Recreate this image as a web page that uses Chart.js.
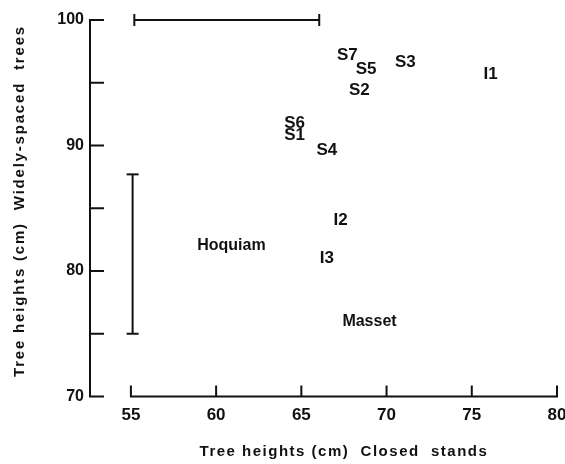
<!DOCTYPE html>
<html>
<head>
<meta charset="utf-8">
<script src="https://cdn.jsdelivr.net/npm/chart.js@4"></script>
<style>
  html, body { margin: 0; padding: 0; background: #fff; }
  #wrap { width: 565px; height: 464px; }
</style>
</head>
<body>
<div id="wrap"><canvas id="myChart" width="565" height="464"></canvas></div>
<script>
// site labels and their mean heights (cm)
var names = ['S7', 'S5', 'S3', 'I1', 'S2', 'S6', 'S1', 'S4', 'I2', 'Hoquiam', 'I3', 'Masset'];
var closedStands = [67.7, 68.8, 71.1, 76.1, 68.4, 64.6, 64.6, 66.5, 67.3, 60.9, 66.5, 69.0];
var widelySpaced = [97.2, 96.1, 96.6, 95.7, 94.4, 91.8, 90.8, 89.6, 84.0, 82.0, 81.0, 76.0];

// error bars (range shown in the corner)
var xErrorBar = [55.2, 66.05];   // at y = 100
var yErrorBar = [75, 87.7];      // at x = 55.1

var xTicks = [55, 60, 65, 70, 75, 80];
var yTicks = [70, 75, 80, 85, 90, 95, 100];
var yLabels = [70, 80, 90, 100];

var ink = '#111';
var fontFamily = '"Liberation Sans", Arial, sans-serif';

var points = names.map(function (n, i) { return {x: closedStands[i], y: widelySpaced[i]}; });

// axis lines with inward ticks, drawn through the scales
var axesPlugin = {
    id: 'axes',
    afterDraw: function (chart) {
        var c = chart.ctx, xs = chart.scales.x, ys = chart.scales.y;
        var left = chart.chartArea.left;
        var base = ys.getPixelForValue(70);
        c.save();
        c.strokeStyle = ink;
        c.lineWidth = 2;
        c.lineCap = 'square';
        c.beginPath();
        c.moveTo(left, ys.getPixelForValue(70));
        c.lineTo(left, ys.getPixelForValue(100));
        yTicks.forEach(function (v) {
            var py = ys.getPixelForValue(v);
            c.moveTo(left, py);
            c.lineTo(left + 13, py);
        });
        c.moveTo(xs.getPixelForValue(55), base);
        c.lineTo(xs.getPixelForValue(80), base);
        xTicks.forEach(function (v) {
            var px = xs.getPixelForValue(v);
            c.moveTo(px, base);
            c.lineTo(px, base - 10);
        });
        c.stroke();

        // axis titles
        c.fillStyle = ink;
        c.textAlign = 'center';
        c.textBaseline = 'middle';
        c.font = 'bold 15px ' + fontFamily;
        c.letterSpacing = '1.5px';
        c.fillText('Tree heights (cm)  Closed  stands',
            (xs.getPixelForValue(55) + xs.getPixelForValue(80)) / 2, 452);
        c.translate(20, 201);
        c.rotate(-Math.PI / 2);
        c.letterSpacing = '1.8px';
        c.fillText('Tree heights (cm)  Widely-spaced  trees', 0, 0);
        c.restore();
    }
};

// site names written at their positions
var namesPlugin = {
    id: 'names',
    afterDatasetsDraw: function (chart) {
        var c = chart.ctx, xs = chart.scales.x, ys = chart.scales.y;
        c.save();
        c.fillStyle = ink;
        c.textAlign = 'center';
        c.textBaseline = 'middle';
        names.forEach(function (n, i) {
            c.font = 'bold ' + (n.length > 3 ? 16 : 17) + 'px ' + fontFamily;
            c.fillText(n, xs.getPixelForValue(closedStands[i]), ys.getPixelForValue(widelySpaced[i]));
        });
        c.restore();
    }
};

var errorBarStyle = {
    showLine: true,
    clip: false,
    borderColor: ink,
    borderWidth: 2,
    pointStyle: 'line',
    pointRadius: 6,
    pointBorderWidth: 2,
    pointBorderColor: ink
};

var ctx = document.getElementById('myChart').getContext('2d');
var chart = new Chart(ctx, {
    type: 'scatter',
    data: {
        datasets: [
            {
                data: points,
                pointRadius: 0
            },
            Object.assign({
                data: [{x: xErrorBar[0], y: 100}, {x: xErrorBar[1], y: 100}],
                pointRotation: 90
            }, errorBarStyle),
            Object.assign({
                data: [{x: 55.1, y: yErrorBar[0]}, {x: 55.1, y: yErrorBar[1]}],
                pointRotation: 0
            }, errorBarStyle)
        ]
    },
    options: {
        responsive: false,
        animation: false,
        layout: {padding: {top: 20, right: 0, bottom: 0, left: 0}},
        plugins: {legend: {display: false}, tooltip: {enabled: false}},
        scales: {
            x: {
                type: 'linear',
                min: 52.6,
                max: 80,
                grid: {display: false, drawTicks: false},
                border: {display: false},
                afterBuildTicks: function (s) {
                    s.ticks = xTicks.map(function (v) { return {value: v}; });
                },
                afterFit: function (s) { s.height = 67.5; s.paddingRight = 8; },
                ticks: {color: ink, padding: 9, font: {family: fontFamily, size: 17, weight: 'bold'}}
            },
            y: {
                type: 'linear',
                min: 70,
                max: 100,
                grid: {display: false, drawTicks: false},
                border: {display: false},
                afterBuildTicks: function (s) {
                    s.ticks = yLabels.map(function (v) { return {value: v}; });
                },
                afterFit: function (s) { s.width = 90; },
                ticks: {color: ink, padding: 6, font: {family: fontFamily, size: 16, weight: 'bold'}}
            }
        }
    },
    plugins: [axesPlugin, namesPlugin]
});
</script>
</body>
</html>
